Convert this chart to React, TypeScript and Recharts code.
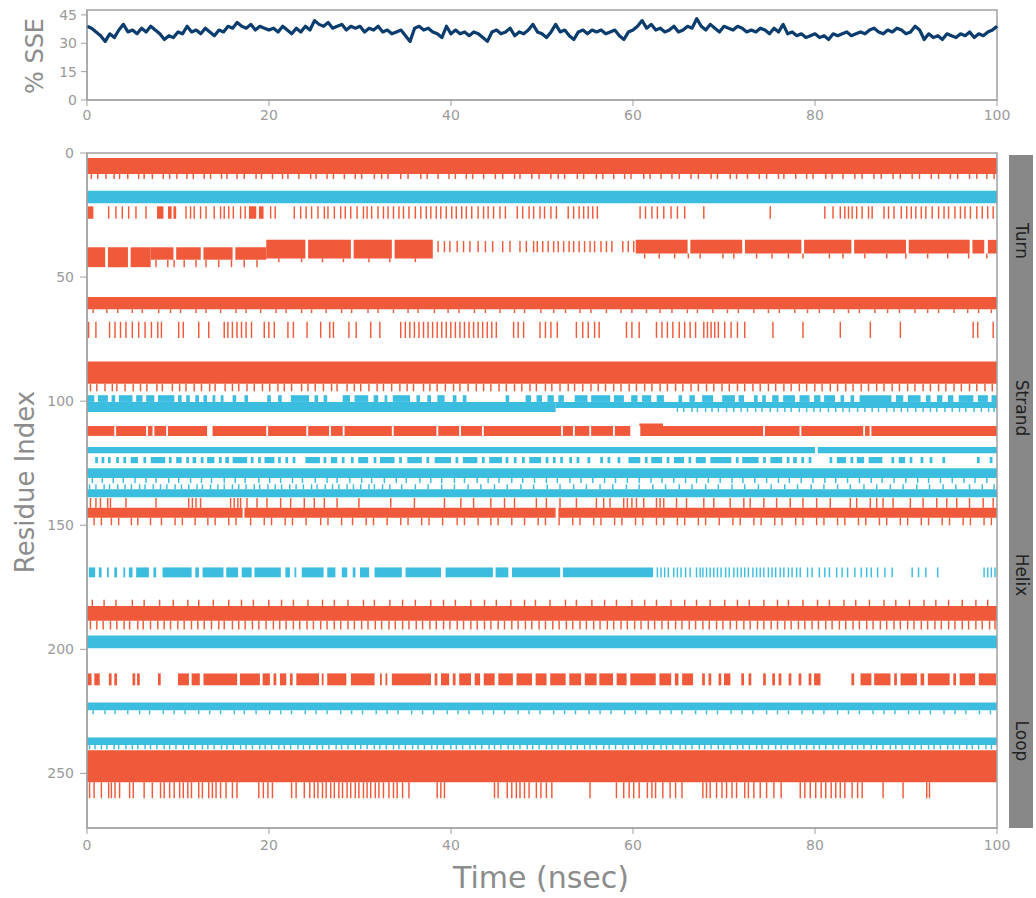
import React from 'react';
import { LineChart, Line, XAxis, YAxis, ComposedChart, ReferenceArea } from 'recharts';

// secondary structure colours, as in the Desmond SSE report
const HELIX = '#f05a3a';
const STRAND = '#3bbde0';
const SSE_LINE = '#0b3c6e';
const AXIS = '#a0a0a0';
const TICK_W = 0.16; // ns width of a single-frame mark
const FONT = '"DejaVu Sans", sans-serif';

const TIME_TICKS = [0, 20, 40, 60, 80, 100];
const SSE_TICKS = [0, 15, 30, 45];
const RESIDUE_TICKS = [0, 50, 100, 150, 200, 250];
const SIDE_LABELS = ['Turn', 'Strand', 'Helix', 'Loop'];

// % SSE, one sample every 0.5 ns from 0 to 100
const SSE_STEP = 0.5;
const SSE_VALUES = [
  39, 38, 36, 34, 31, 35, 33, 37, 40, 36,
  37, 35, 38, 36, 39, 37, 35, 32, 34, 33,
  36, 35, 39, 36, 37, 35, 38, 36, 34, 37,
  36, 39, 38, 41, 39, 38, 40, 37, 39, 38,
  37, 38, 36, 39, 37, 35, 38, 36, 39, 37,
  42, 40, 39, 41, 38, 39, 40, 37, 39, 38,
  39, 36, 38, 37, 39, 36, 37, 35, 36, 37,
  34, 31, 38, 39, 37, 38, 36, 35, 33, 39,
  35, 37, 35, 36, 34, 36, 35, 33, 31, 36,
  37, 35, 36, 38, 34, 36, 35, 37, 40, 36,
  35, 33, 36, 40, 36, 37, 34, 32, 36, 37,
  35, 37, 36, 37, 35, 36, 37, 34, 32, 36,
  37, 39, 42, 38, 40, 37, 38, 36, 37, 39,
  36, 37, 39, 38, 43, 39, 37, 40, 38, 36,
  39, 38, 37, 39, 38, 36, 37, 36, 38, 37,
  35, 38, 36, 40, 35, 36, 34, 35, 33, 34,
  35, 33, 34, 32, 35, 34, 35, 36, 34, 35,
  36, 35, 37, 38, 36, 35, 37, 36, 38, 37,
  35, 36, 39, 37, 32, 35, 33, 34, 32, 35,
  34, 33, 35, 34, 36, 33, 35, 34, 36, 37,
  39,
];

type Span = [number, number];
interface Band {
  kind: 'helix' | 'strand';
  lo: number; // residue range
  hi: number;
  spans?: Span[]; // time ranges (ns)
  ticks?: number[]; // single frames (ns)
}

const FULL: Span[] = [[0, 100]];

const FRINGE_A = [0.4, 1.1, 2.0, 2.9, 3.5, 4.4, 5.6, 6.2, 7.1, 8.3, 9.0, 9.8, 10.9, 11.6, 12.8, 13.5, 14.7, 15.3, 16.4, 17.2, 18.5, 19.1, 20.3, 21.4, 22.0, 23.2, 24.5, 25.1, 26.3, 27.0, 28.2, 29.4, 30.1, 31.5, 32.3, 33.0, 34.4, 35.2, 36.6, 37.3, 38.5, 39.7, 40.4, 41.6, 42.3, 43.5, 44.8, 45.6, 46.9, 47.5, 48.8, 49.6, 50.9, 51.7, 52.4, 53.8, 54.5, 55.9, 56.6, 57.8, 59.0, 59.7, 61.1, 61.8, 63.0, 64.2, 65.0, 66.3, 67.1, 68.5, 69.2, 70.6, 71.3, 72.5, 73.8, 74.6, 75.9, 76.5, 77.8, 79.0, 79.7, 81.1, 81.8, 83.0, 84.3, 85.1, 86.4, 87.2, 88.5, 89.3, 90.6, 91.4, 92.7, 93.5, 94.8, 95.6, 96.9, 97.7, 98.8, 99.6];

const ROW_C_SPANS: Span[] = [[0.1, 0.7], [7.7, 8.4], [8.9, 9.3], [9.5, 9.8], [17.8, 18.6], [18.9, 19.4]];
const ROW_C_TICKS = [2.3, 3.1, 3.8, 4.5, 5.3, 6.4, 10.8, 11.3, 11.7, 12.4, 13.0, 13.9, 14.6, 15.0, 15.5, 16.0, 16.8, 17.3, 20.1, 20.6, 22.7, 23.4, 24.0, 24.6, 25.3, 26.0, 26.4, 27.1, 27.8, 28.3, 28.9, 29.6, 30.3, 30.7, 31.2, 31.9, 32.5, 33.0, 33.6, 34.2, 34.7, 35.3, 36.0, 36.6, 37.2, 37.7, 38.3, 38.8, 39.4, 40.0, 40.5, 41.1, 41.6, 42.2, 42.9, 43.5, 44.0, 44.6, 45.3, 45.9, 47.2, 47.8, 48.5, 49.0, 49.7, 50.2, 50.9, 51.5, 52.8, 53.4, 54.0, 54.5, 55.0, 55.5, 56.0, 60.7, 61.3, 62.0, 62.6, 63.3, 64.1, 64.8, 65.6, 67.7, 75.0, 81.0, 81.9, 82.7, 83.2, 83.6, 84.0, 84.5, 85.1, 85.8, 86.2, 87.5, 88.0, 88.6, 89.4, 90.0, 90.5, 91.0, 91.6, 92.1, 92.8, 93.5, 94.1, 94.6, 95.3, 95.9, 96.4, 97.0, 97.7, 98.3, 98.9, 99.5];

const ROW_D1: Span[] = [[0, 2.0], [2.3, 4.5], [4.8, 7]];
const ROW_D2: Span[] = [[7, 9.5], [9.8, 12.5], [12.8, 16], [16.3, 19.7]];
const ROW_D2_FRINGE = [7.5, 8.8, 9.5, 10.6, 11.9, 13.0, 14.4, 15.8, 17.2, 18.6];
const ROW_D3: Span[] = [[19.7, 24], [24.3, 29], [29.3, 33.5], [33.8, 38]];
const ROW_D3_FRINGE = [21.0, 23.5, 25.8, 28.1, 30.9, 33.2, 36.0];
const ROW_D4_TICKS = [38.5, 39.2, 39.8, 40.6, 41.3, 42.0, 42.9, 43.7, 44.5, 45.6, 46.4, 47.5, 48.2, 49.0, 49.4, 50.0, 50.6, 51.2, 51.7, 52.3, 52.9, 53.4, 54.0, 54.6, 55.2, 55.7, 56.4, 57.0, 57.6, 58.8, 59.4, 60.0];
const ROW_D5: Span[] = [[60.3, 66], [66.3, 72], [72.3, 78.5], [78.8, 84], [84.3, 90], [90.3, 97], [97.3, 98.6], [99.0, 100]];
const ROW_D5_FRINGE = [61.2, 62.8, 64.5, 66.0, 67.3, 69.8, 71.0, 73.5, 75.2, 77.0, 78.6, 81.5, 83.0, 85.4, 87.8, 89.9, 92.3, 94.5, 96.8, 98.8];

const FRINGE_E = [0.6, 2.1, 3.3, 4.9, 6.0, 7.8, 9.1, 10.2, 11.9, 13.0, 14.6, 16.3, 17.4, 19.0, 20.7, 21.8, 23.5, 24.6, 26.2, 27.9, 29.0, 30.8, 31.9, 33.6, 35.2, 36.3, 38.1, 39.6, 40.8, 42.5, 43.7, 45.3, 46.9, 48.0, 49.8, 51.2, 52.5, 54.1, 55.3, 57.0, 58.6, 59.8, 61.4, 62.9, 64.2, 65.9, 67.0, 68.7, 70.3, 71.5, 73.2, 74.8, 76.0, 77.7, 79.1, 80.4, 82.0, 83.6, 84.8, 86.5, 87.9, 89.2, 90.9, 92.3, 93.5, 95.2, 96.7, 97.9, 99.3];

const ROW_F_TICKS = [0.1, 0.9, 2.4, 3.0, 3.6, 4.2, 4.9, 5.6, 6.3, 7.0, 7.7, 8.1, 10.0, 10.5, 12.2, 13.3, 15.0, 15.4, 15.9, 16.4, 16.9, 17.4, 18.0, 19.4, 19.9, 20.5, 22.0, 22.6, 24.1, 25.6, 26.6, 27.0, 28.7, 29.5, 31.1, 32.1, 34.4, 34.9, 35.4, 35.9, 36.4, 36.9, 37.4, 37.9, 38.4, 38.9, 39.4, 39.9, 40.4, 40.9, 41.4, 41.9, 42.4, 42.9, 43.4, 43.9, 44.4, 44.9, 46.8, 47.3, 47.9, 49.7, 50.3, 50.9, 51.6, 53.7, 54.4, 55.0, 55.7, 56.2, 59.2, 59.8, 60.6, 62.5, 63.1, 63.7, 64.3, 65.0, 65.6, 66.2, 66.8, 67.7, 68.1, 68.5, 68.9, 69.3, 70.0, 70.7, 71.4, 72.2, 75.3, 78.6, 82.7, 86.0, 89.3, 97.3, 97.8, 99.5];

const FRINGE_G = [0.3, 1.0, 1.9, 2.7, 3.2, 4.1, 5.0, 5.8, 6.5, 7.6, 8.2, 9.3, 10.1, 10.8, 11.7, 12.5, 13.4, 14.0, 15.1, 15.9, 16.6, 17.5, 18.3, 19.2, 20.0, 20.9, 21.6, 22.4, 23.5, 24.2, 25.0, 25.9, 26.8, 27.4, 28.5, 29.3, 30.0, 30.9, 31.8, 32.5, 33.4, 34.3, 35.1, 35.8, 36.9, 37.6, 38.4, 39.3, 40.2, 40.9, 41.8, 42.7, 43.5, 44.3, 45.2, 46.0, 46.9, 47.7, 48.6, 49.3, 50.3, 51.0, 51.9, 52.8, 53.5, 54.4, 55.3, 56.1, 56.9, 57.8, 58.6, 59.5, 60.3, 61.2, 62.0, 62.9, 63.7, 64.6, 65.4, 66.3, 67.1, 68.0, 68.8, 69.7, 70.5, 71.4, 72.2, 73.1, 73.9, 74.8, 75.6, 76.5, 77.3, 78.2, 79.0, 79.9, 80.7, 81.6, 82.4, 83.3, 84.1, 85.0, 85.8, 86.7, 87.5, 88.4, 89.2, 90.1, 90.9, 91.8, 92.6, 93.5, 94.3, 95.2, 96.0, 96.9, 97.7, 98.6, 99.4];

const ROW_H_TOP: Span[] = [[0, 0.8], [1.2, 2.3], [2.7, 3.1], [3.5, 5.0], [5.4, 6.1], [6.5, 7.4], [7.8, 9.6], [10.0, 10.4], [10.9, 11.3], [11.9, 12.3], [12.8, 13.2], [13.8, 14.1], [14.7, 15.0], [16.0, 16.4], [17.3, 17.7], [19.8, 20.2], [21.0, 21.4], [22.4, 24.4], [25.0, 25.4], [26.0, 26.4], [28.1, 28.9], [29.4, 30.9], [31.5, 32.0], [32.7, 33.0], [33.6, 35.5], [36.2, 36.6], [37.4, 37.8], [38.5, 39.3], [40.2, 40.6], [41.3, 41.7], [46.0, 46.4], [48.2, 48.8], [49.4, 50.0], [50.6, 51.3], [51.8, 52.4], [53.6, 55.0], [55.4, 57.5], [57.9, 59.0], [59.8, 60.5], [61.0, 62.0], [62.6, 63.4], [65.0, 65.4], [66.2, 66.8], [67.6, 68.8], [69.8, 71.2], [71.6, 72.2], [73.3, 73.7], [74.2, 74.6], [75.3, 76.0], [76.5, 77.8], [78.3, 79.4], [79.9, 80.6], [81.0, 82.2], [82.8, 83.2], [83.9, 84.3], [84.9, 88.4], [88.9, 89.7], [90.2, 91.6], [92.2, 92.7], [93.4, 94.0], [94.6, 95.2], [95.8, 97.4], [97.9, 99.0], [99.4, 100]];
const ROW_H_FRINGE = [64.8, 65.5, 66.4, 67.0, 67.9, 68.6, 69.3, 70.2, 71.0, 71.8, 72.5, 73.4, 74.1, 75.0, 75.8, 76.6, 77.3, 78.2, 79.0, 79.8, 80.5, 81.4, 82.2, 83.0, 83.7, 84.6, 85.4, 86.2, 86.9, 87.8, 88.6, 89.4, 90.1, 91.0, 91.8, 92.6, 93.3, 94.2, 95.0, 95.8, 96.5, 97.4, 98.2, 99.0, 99.6];

const ROW_I: Span[] = [[0, 3.0], [3.2, 6.5], [6.7, 7.2], [7.4, 8.7], [8.9, 13.2], [13.8, 19.7], [19.9, 24.1], [24.3, 26.6], [26.8, 28.1], [28.3, 33.5], [33.7, 38.4], [38.6, 40.9], [41.1, 43.4], [43.6, 52.1], [52.3, 53.4], [53.6, 55.2], [55.4, 57.8], [58.0, 59.7], [60.8, 74.3], [74.5, 78.3], [78.5, 85.3], [85.5, 86.0], [86.2, 100]];
const ROW_I_BUMP: Span[] = [[60.7, 63.3]];

const ROW_K: Span[] = [[0.9, 1.2], [1.6, 1.9], [2.3, 2.6], [3.2, 3.5], [4.0, 4.3], [4.8, 5.6], [6.2, 6.5], [7.0, 8.6], [9.0, 9.3], [9.8, 10.4], [10.9, 11.2], [11.6, 12.0], [12.5, 12.8], [13.2, 14.0], [14.5, 14.8], [15.2, 15.6], [16.0, 17.6], [18.0, 18.3], [18.8, 19.1], [19.5, 20.6], [21.0, 21.3], [21.8, 22.1], [22.6, 22.9], [24.0, 25.6], [26.0, 26.3], [26.8, 27.5], [28.0, 28.3], [29.0, 29.3], [29.8, 30.9], [31.5, 31.8], [32.2, 33.8], [34.3, 34.6], [35.2, 36.8], [37.3, 37.6], [38.2, 40.0], [40.5, 40.8], [41.3, 42.9], [43.4, 43.7], [44.2, 45.6], [46.0, 46.3], [46.9, 47.2], [47.8, 48.1], [48.6, 49.9], [50.4, 50.7], [51.2, 51.5], [52.0, 52.3], [53.0, 53.3], [53.8, 54.1], [55.0, 55.3], [56.4, 56.7], [57.2, 57.5], [58.3, 58.6], [59.5, 60.8], [61.3, 61.6], [62.0, 63.2], [63.7, 64.0], [64.5, 65.6], [66.1, 66.4], [66.9, 68.0], [68.5, 70.8], [71.3, 71.6], [72.0, 73.8], [74.3, 74.6], [75.1, 76.4], [76.9, 77.2], [77.6, 78.0], [78.5, 78.8], [79.3, 79.6], [81.6, 81.9], [82.4, 83.4], [83.9, 84.2], [84.6, 85.4], [85.9, 87.4], [88.4, 88.7], [89.2, 89.9], [90.4, 90.7], [91.6, 91.9], [92.6, 92.9], [94.0, 94.3], [97.8, 98.1], [99.2, 99.5]];

const FRINGE_L = [0.5, 1.6, 2.8, 3.9, 5.2, 6.4, 7.5, 8.9, 10.0, 11.3, 12.5, 13.6, 15.0, 16.2, 17.3, 18.8, 20.0, 21.2, 22.5, 23.6, 25.0, 26.3, 27.4, 28.8, 30.1, 31.2, 32.6, 33.9, 35.0, 36.5, 37.7, 38.9, 40.3, 41.4, 42.8, 44.0, 45.2, 46.6, 47.8, 49.1, 50.4, 51.6, 53.0, 54.2, 55.5, 56.8, 58.0, 59.3, 60.6, 61.9, 63.1, 64.4, 65.7, 66.9, 68.2, 69.5, 70.8, 72.0, 73.3, 74.6, 75.9, 77.1, 78.4, 79.7, 81.0, 82.2, 83.5, 84.8, 86.1, 87.3, 88.6, 89.9, 91.2, 92.4, 93.7, 95.0, 96.3, 97.5, 98.8];
const FRINGE_M = [0.2, 0.9, 1.8, 2.4, 3.3, 4.1, 4.8, 5.7, 6.3, 7.2, 8.0, 8.7, 9.6, 10.3, 11.1, 12.0, 12.6, 13.5, 14.3, 15.0, 15.9, 16.6, 17.4, 18.3, 18.9, 19.8, 20.6, 21.3, 22.2, 22.9, 23.7, 24.6, 25.2, 26.1, 26.9, 27.6, 28.5, 29.2, 30.0, 30.9, 31.5, 32.4, 33.2, 34.5, 36.0, 37.4, 38.9, 40.3, 41.8, 43.2, 44.7, 46.1, 47.6, 49.0, 50.5, 51.9, 53.4, 54.8, 56.3, 57.7, 59.2, 60.6, 62.1, 63.5, 65.0, 66.4, 67.9, 69.3, 70.8, 72.2, 73.7, 75.1, 76.6, 78.0, 79.5, 80.9, 82.4, 83.8, 85.3, 86.7, 88.2, 89.6, 91.1, 92.5, 94.0, 95.4, 96.9, 98.3, 99.6];

const ROW_N_TICKS = [0.3, 0.9, 1.4, 2.2, 2.5, 4.2, 7.5, 11.1, 11.5, 11.9, 12.4, 15.7, 16.1, 16.5, 16.8, 17.5, 18.6, 19.7, 21.2, 22.3, 23.8, 24.9, 26.0, 27.4, 29.8, 33.3, 35.9, 39.2, 41.0, 42.4, 44.3, 45.8, 46.9, 49.3, 50.4, 51.9, 53.7, 55.9, 56.7, 57.4, 58.9, 59.3, 59.8, 60.3, 61.1, 62.5, 62.9, 63.3, 64.7, 65.8, 67.7, 68.8, 70.6, 72.1, 72.8, 74.3, 75.7, 77.2, 78.6, 80.1, 81.6, 83.8, 84.5, 86.0, 86.7, 87.4, 88.5, 90.4, 91.8, 93.3, 94.4, 95.5, 96.9, 98.4, 99.5];
const ROW_O: Span[] = [[0, 17.1], [17.3, 51.5], [51.8, 100]];
const FRINGE_O = [0.7, 1.5, 2.6, 3.4, 4.8, 5.5, 6.9, 8.1, 9.6, 10.4, 11.8, 13.2, 14.0, 15.5, 16.3, 17.9, 19.4, 20.2, 21.7, 22.5, 24.0, 25.6, 26.4, 27.9, 29.1, 30.6, 31.4, 32.9, 34.4, 35.2, 36.7, 37.5, 39.0, 40.6, 41.4, 42.9, 44.3, 45.1, 46.6, 48.0, 49.5, 50.3, 51.8, 53.3, 54.1, 55.6, 56.4, 57.9, 58.7, 60.2, 61.0, 62.5, 63.3, 64.8, 65.6, 67.1, 67.9, 69.4, 70.9, 71.7, 73.2, 74.0, 75.5, 76.3, 77.8, 78.6, 80.1, 80.9, 82.4, 83.2, 84.7, 85.5, 87.0, 87.8, 89.3, 90.1, 91.6, 92.4, 93.9, 94.7, 96.2, 97.0, 98.5, 99.3];

const ROW_P: Span[] = [[0.2, 0.9], [1.3, 1.6], [2.2, 2.4], [3.0, 3.3], [4.0, 4.2], [4.6, 5.0], [5.4, 6.8], [7.3, 7.6], [8.3, 11.5], [11.9, 12.3], [12.7, 15.0], [15.3, 16.6], [17.0, 18.1], [18.4, 21.3], [21.8, 22.3], [22.8, 23.0], [23.6, 26.0], [26.4, 27.3], [28.0, 28.6], [29.2, 29.5], [30.0, 31.0], [31.6, 34.6], [35.0, 38.9], [39.4, 44.6], [44.9, 46.3], [46.7, 52.0], [52.3, 62.2]];
const ROW_P_TICKS = [62.6, 63.0, 63.4, 63.8, 64.4, 64.8, 65.2, 65.7, 66.2, 66.9, 67.3, 67.6, 68.0, 68.4, 68.8, 69.2, 69.6, 70.1, 70.5, 71.0, 71.4, 71.8, 72.2, 72.6, 73.1, 73.5, 73.9, 74.3, 74.8, 75.2, 75.6, 76.1, 76.5, 77.0, 77.4, 77.9, 78.3, 79.1, 79.6, 80.4, 81.0, 81.5, 82.3, 82.9, 83.5, 84.3, 85.0, 85.6, 86.1, 86.8, 87.6, 88.4, 90.6, 91.3, 92.1, 93.4, 98.5, 98.9, 99.3, 99.7];

const FRINGE_Q_TOP = [0.5, 1.8, 3.1, 4.9, 6.2, 7.9, 9.4, 11.0, 12.2, 13.8, 15.5, 16.9, 18.2, 19.9, 21.3, 22.6, 24.2, 25.8, 27.1, 28.6, 30.3, 31.5, 33.2, 34.6, 36.0, 37.7, 39.1, 40.4, 42.1, 43.6, 44.9, 46.5, 48.0, 49.2, 50.8, 52.5, 53.7, 55.4, 56.8, 58.1, 59.8, 61.2, 62.5, 64.1, 65.6, 66.9, 68.4, 70.0, 71.4, 72.7, 74.3, 75.8, 77.0, 78.6, 80.2, 81.5, 83.1, 84.4, 85.9, 87.5, 88.8, 90.3, 91.9, 93.2, 94.6, 96.1, 97.6, 98.9];
const FRINGE_Q_LOW = [0.3, 1.0, 1.7, 2.5, 3.2, 4.0, 4.6, 5.5, 6.1, 6.9, 7.7, 8.4, 9.1, 9.9, 10.6, 11.4, 12.1, 12.8, 13.6, 14.4, 15.0, 15.9, 16.6, 17.3, 18.1, 18.8, 19.6, 20.4, 21.1, 21.8, 22.6, 23.3, 24.1, 24.8, 25.6, 26.3, 27.1, 27.8, 28.6, 29.3, 30.1, 30.8, 31.6, 32.3, 33.1, 33.8, 34.6, 35.3, 36.1, 36.8, 37.6, 38.3, 39.1, 39.8, 40.6, 41.3, 42.1, 42.8, 43.6, 44.3, 45.1, 45.8, 46.6, 47.3, 48.1, 48.8, 49.6, 50.3, 51.1, 51.8, 52.6, 53.3, 54.1, 54.8, 55.6, 56.3, 57.1, 57.8, 58.6, 59.3, 60.1, 60.8, 61.6, 62.3, 63.1, 63.8, 64.6, 65.3, 66.1, 66.8, 67.6, 68.3, 69.1, 69.8, 70.6, 71.3, 72.1, 72.8, 73.6, 74.3, 75.1, 75.8, 76.6, 77.3, 78.1, 78.8, 79.6, 80.3, 81.1, 81.8, 82.6, 83.3, 84.1, 84.8, 85.6, 86.3, 87.1, 87.8, 88.6, 89.3, 90.1, 90.8, 91.6, 92.3, 93.1, 93.8, 94.6, 95.3, 96.1, 96.8, 97.6, 98.3, 99.1, 99.7];

const ROW_S: Span[] = [[0.1, 0.5], [0.8, 1.4], [2.4, 2.7], [3.0, 3.3], [5.0, 5.3], [5.5, 5.8], [7.8, 8.1], [10.0, 11.2], [11.5, 12.4], [12.8, 16.5], [16.8, 19.0], [19.3, 20.1], [20.5, 20.8], [21.2, 21.9], [22.3, 22.6], [23.0, 25.5], [25.8, 26.0], [26.4, 28.5], [29.0, 31.6], [32.2, 32.4], [32.8, 33.0], [33.5, 37.8], [38.2, 38.5], [38.9, 39.8], [40.2, 40.5], [40.9, 42.2], [42.6, 43.2], [43.6, 44.8], [45.2, 46.8], [47.2, 48.9], [49.3, 50.5], [50.9, 52.6], [53.0, 54.3], [54.7, 56.0], [56.3, 57.8], [58.2, 59.3], [59.7, 62.5], [62.9, 64.2], [64.6, 65.0], [65.4, 66.6], [67.6, 67.9], [68.3, 68.6], [69.4, 69.7], [70.0, 70.7], [71.9, 72.2], [72.7, 73.0], [74.3, 74.6], [75.3, 75.6], [76.0, 76.3], [77.1, 77.4], [78.2, 78.5], [79.3, 79.6], [79.9, 80.6], [84.0, 84.3], [85.0, 86.2], [86.5, 88.3], [88.7, 89.0], [89.4, 91.2], [91.6, 92.0], [92.4, 94.8], [95.2, 95.5], [95.9, 97.6], [98.0, 99.9]];

const FRINGE_T = [0.6, 1.9, 3.0, 4.4, 5.7, 6.8, 8.3, 9.5, 10.7, 12.2, 13.4, 14.6, 16.1, 17.2, 18.5, 20.0, 21.2, 22.4, 23.9, 25.1, 26.3, 27.8, 29.0, 30.2, 31.7, 32.9, 34.1, 35.6, 36.8, 38.0, 39.5, 40.7, 41.9, 43.4, 44.6, 45.8, 47.3, 48.5, 49.7, 51.2, 52.4, 53.6, 55.1, 56.3, 57.5, 59.0, 60.2, 61.4, 62.9, 64.1, 65.3, 66.8, 68.0, 69.2, 70.7, 71.9, 73.1, 74.6, 75.8, 77.0, 78.5, 79.7, 80.9, 82.4, 83.6, 84.8, 86.3, 87.5, 88.7, 90.2, 91.4, 92.6, 94.1, 95.3, 96.5, 98.0, 99.2];
const FRINGE_U = [0.2, 0.8, 1.5, 2.1, 2.9, 3.4, 4.2, 4.9, 5.5, 6.3, 6.9, 7.6, 8.4, 9.0, 9.7, 10.5, 11.1, 11.8, 12.6, 13.2, 13.9, 14.7, 15.3, 16.0, 16.8, 17.4, 18.1, 18.9, 19.5, 20.2, 21.0, 21.6, 22.3, 23.1, 23.7, 24.4, 25.2, 25.8, 26.5, 27.3, 27.9, 28.6, 29.4, 30.0, 30.7, 31.5, 32.1, 32.8, 33.6, 34.2, 34.9, 35.7, 36.3, 37.0, 37.8, 38.4, 39.1, 39.9, 40.5, 41.2, 42.0, 42.6, 43.3, 44.1, 44.7, 45.4, 46.2, 46.8, 47.5, 48.3, 48.9, 49.6, 50.4, 51.0, 51.7, 52.5, 53.1, 53.8, 54.6, 55.2, 55.9, 56.7, 57.3, 58.0, 58.8, 59.4, 60.1, 60.9, 61.5, 62.2, 63.0, 63.6, 64.3, 65.1, 65.7, 66.4, 67.2, 67.8, 68.5, 69.3, 69.9, 70.6, 71.4, 72.0, 72.7, 73.5, 74.1, 74.8, 75.6, 76.2, 76.9, 77.7, 78.3, 79.0, 79.8, 80.4, 81.1, 81.9, 82.5, 83.2, 84.0, 84.6, 85.3, 86.1, 86.7, 87.4, 88.2, 88.8, 89.5, 90.3, 90.9, 91.6, 92.4, 93.0, 93.7, 94.5, 95.1, 95.8, 96.6, 97.2, 97.9, 98.7, 99.3];

const ROW_W_TICKS = [0.2, 0.7, 1.5, 2.3, 2.6, 3.0, 3.5, 4.6, 5.0, 6.2, 7.1, 8.0, 8.4, 9.0, 9.5, 10.1, 10.5, 11.0, 11.4, 12.2, 12.6, 13.3, 13.7, 14.1, 14.6, 15.2, 15.9, 16.4, 18.8, 19.3, 19.8, 20.3, 22.4, 22.9, 23.8, 24.4, 24.9, 25.3, 25.8, 26.2, 26.7, 27.1, 27.6, 28.0, 28.5, 28.9, 29.4, 29.8, 30.3, 30.7, 31.1, 31.6, 32.0, 32.5, 33.1, 33.6, 34.0, 34.6, 35.3, 38.4, 38.8, 39.2, 44.7, 45.1, 46.1, 46.6, 47.1, 47.5, 48.0, 48.5, 49.3, 49.8, 50.4, 51.0, 55.2, 58.1, 58.9, 59.5, 60.0, 60.6, 61.5, 62.0, 62.4, 63.2, 64.0, 64.6, 65.3, 67.6, 68.0, 68.4, 69.1, 69.7, 70.2, 70.8, 71.3, 72.2, 72.6, 73.2, 73.9, 74.6, 75.4, 76.2, 78.3, 78.8, 79.4, 80.0, 80.6, 81.1, 81.7, 82.2, 82.7, 83.2, 84.0, 84.6, 85.1, 87.4, 89.6, 92.2, 92.5];

const BANDS: Band[] = [
  { kind: 'helix', lo: 2, hi: 8.5, spans: FULL },
  { kind: 'helix', lo: 8.5, hi: 10.5, ticks: FRINGE_A },
  { kind: 'strand', lo: 15.2, hi: 20.2, spans: FULL },
  { kind: 'helix', lo: 21.5, hi: 26.5, spans: ROW_C_SPANS, ticks: ROW_C_TICKS },
  { kind: 'helix', lo: 38, hi: 46, spans: ROW_D1 },
  { kind: 'helix', lo: 38, hi: 43, spans: ROW_D2 },
  { kind: 'helix', lo: 43, hi: 46, ticks: ROW_D2_FRINGE },
  { kind: 'helix', lo: 35, hi: 42.5, spans: ROW_D3 },
  { kind: 'helix', lo: 42.5, hi: 44, ticks: ROW_D3_FRINGE },
  { kind: 'helix', lo: 35.5, hi: 40, ticks: ROW_D4_TICKS },
  { kind: 'helix', lo: 35, hi: 40.5, spans: ROW_D5 },
  { kind: 'helix', lo: 40.5, hi: 42.5, ticks: ROW_D5_FRINGE },
  { kind: 'helix', lo: 58, hi: 63, spans: FULL },
  { kind: 'helix', lo: 63, hi: 64.5, ticks: FRINGE_E },
  { kind: 'helix', lo: 68, hi: 74.5, ticks: ROW_F_TICKS },
  { kind: 'helix', lo: 84, hi: 93, spans: FULL },
  { kind: 'helix', lo: 93, hi: 96, ticks: FRINGE_G },
  { kind: 'strand', lo: 97.6, hi: 100.3, spans: ROW_H_TOP },
  { kind: 'strand', lo: 100.3, hi: 104.4, spans: [[0, 51.5]] },
  { kind: 'strand', lo: 100.3, hi: 102.8, spans: [[51.5, 100]] },
  { kind: 'strand', lo: 102.8, hi: 104.4, ticks: ROW_H_FRINGE },
  { kind: 'helix', lo: 110, hi: 114, spans: ROW_I },
  { kind: 'helix', lo: 109, hi: 110, spans: ROW_I_BUMP },
  { kind: 'strand', lo: 118.5, hi: 121, spans: [[0, 80], [80.3, 100]] },
  { kind: 'strand', lo: 122.5, hi: 125, spans: ROW_K },
  { kind: 'strand', lo: 127, hi: 131, spans: FULL },
  { kind: 'strand', lo: 131, hi: 133, ticks: FRINGE_L },
  { kind: 'strand', lo: 133.5, hi: 135.5, ticks: FRINGE_M },
  { kind: 'strand', lo: 135.5, hi: 138.7, spans: FULL },
  { kind: 'helix', lo: 139, hi: 143, ticks: ROW_N_TICKS },
  { kind: 'helix', lo: 143, hi: 147, spans: ROW_O },
  { kind: 'helix', lo: 147, hi: 150, ticks: FRINGE_O },
  { kind: 'strand', lo: 167, hi: 171, spans: ROW_P, ticks: ROW_P_TICKS },
  { kind: 'helix', lo: 180, hi: 182.5, ticks: FRINGE_Q_TOP },
  { kind: 'helix', lo: 182.5, hi: 188.5, spans: FULL },
  { kind: 'helix', lo: 188.5, hi: 192, ticks: FRINGE_Q_LOW },
  { kind: 'strand', lo: 194.4, hi: 199.6, spans: FULL },
  { kind: 'helix', lo: 209.7, hi: 214.5, spans: ROW_S },
  { kind: 'strand', lo: 221.4, hi: 224.6, spans: FULL },
  { kind: 'strand', lo: 224.6, hi: 226.2, ticks: FRINGE_T },
  { kind: 'strand', lo: 235.5, hi: 238.6, spans: FULL },
  { kind: 'strand', lo: 238.6, hi: 240.3, ticks: FRINGE_U },
  { kind: 'helix', lo: 240.7, hi: 253.6, spans: FULL },
  { kind: 'helix', lo: 253.6, hi: 260, ticks: ROW_W_TICKS },
];

const sseData = SSE_VALUES.map((v, i) => ({ t: i * SSE_STEP, sse: v }));

const segments = BANDS.flatMap((b, i) => {
  const fromTicks: Span[] = (b.ticks ?? []).map((t) => [t, Math.min(t + TICK_W, 100)] as Span);
  return [...(b.spans ?? []), ...fromTicks].map(([x1, x2], j) => ({
    key: `b${i}-${j}`,
    x1,
    x2,
    y1: b.lo,
    y2: b.hi,
    fill: b.kind === 'helix' ? HELIX : STRAND,
  }));
});

const tickStyle = { fill: '#9a9a9a', fontSize: 14, fontFamily: FONT };

const rotated = (cx: number, cy: number, deg: number, size: number, color: string): React.CSSProperties => ({
  position: 'absolute',
  left: cx,
  top: cy,
  transform: `translate(-50%, -50%) rotate(${deg}deg)`,
  whiteSpace: 'nowrap',
  fontFamily: FONT,
  fontSize: size,
  color,
  lineHeight: 1,
});

const SIDE_CENTERS = [241, 408, 575, 741];

export default function App() {
  return (
    <div style={{ position: 'absolute', left: 0, top: 0, width: 1036, height: 898, background: '#fff' }}>
      <div style={{ position: 'absolute', left: 0, top: 0 }}>
        <LineChart width={1036} height={130} data={sseData} margin={{ top: 10, right: 39, left: 27, bottom: 0 }}>
          <XAxis
            dataKey="t"
            type="number"
            domain={[0, 100]}
            ticks={TIME_TICKS}
            tick={tickStyle}
            tickSize={6}
            tickMargin={4}
            height={30}
            stroke={AXIS}
          />
          <YAxis
            type="number"
            domain={[0, 47.6]}
            ticks={SSE_TICKS}
            tick={tickStyle}
            tickSize={6}
            tickMargin={4}
            width={60}
            stroke={AXIS}
            allowDataOverflow
          />
          <ReferenceArea x1={0} x2={100} y1={0} y2={47.6} fill="none" stroke={AXIS} strokeWidth={1.5} ifOverflow="visible" />
          <Line dataKey="sse" type="linear" stroke={SSE_LINE} strokeWidth={3.2} strokeLinejoin="round" dot={false} isAnimationActive={false} />
        </LineChart>
      </div>

      <div style={{ position: 'absolute', left: 0, top: 140 }}>
        <ComposedChart width={1036} height={758} data={[{ t: 0 }, { t: 100 }]} margin={{ top: 13, right: 39, left: 27, bottom: 40 }}>
          <XAxis
            dataKey="t"
            type="number"
            domain={[0, 100]}
            ticks={TIME_TICKS}
            tick={tickStyle}
            tickSize={6}
            tickMargin={6}
            height={30}
            stroke={AXIS}
          />
          <YAxis
            type="number"
            domain={[0, 272]}
            reversed
            ticks={RESIDUE_TICKS}
            tick={tickStyle}
            tickSize={7}
            tickMargin={6}
            width={60}
            stroke={AXIS}
            allowDataOverflow
          />
          {segments.map((s) => (
            <ReferenceArea
              key={s.key}
              x1={s.x1}
              x2={s.x2}
              y1={s.y1}
              y2={s.y2}
              fill={s.fill}
              fillOpacity={1}
              stroke="none"
              ifOverflow="visible"
            />
          ))}
          <ReferenceArea x1={0} x2={100} y1={0} y2={272} fill="none" stroke={AXIS} strokeWidth={1.5} ifOverflow="visible" />
        </ComposedChart>
      </div>

      <div style={rotated(35, 56, -90, 24, '#8c8c8c')}>% SSE</div>
      <div style={rotated(25, 482, -90, 26, '#8c8c8c')}>Residue Index</div>
      <div style={rotated(541, 878, 0, 30, '#8c8c8c')}>Time (nsec)</div>

      <div style={{ position: 'absolute', left: 1009, top: 155, width: 24, height: 673, background: '#888' }} />
      {SIDE_LABELS.map((label, i) => (
        <div key={label} style={rotated(1021, SIDE_CENTERS[i], 90, 17, '#222')}>
          {label}
        </div>
      ))}
    </div>
  );
}
